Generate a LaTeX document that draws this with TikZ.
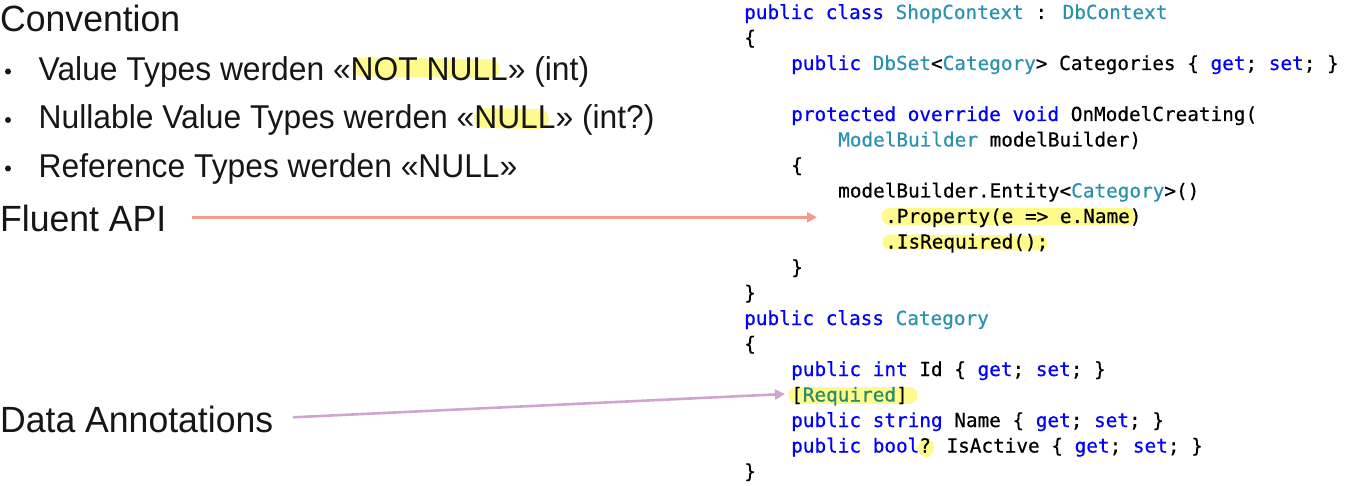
\documentclass[tikz,border=0pt]{standalone}
\usepackage{graphicx}
\usepackage{fontspec}
\setmainfont{Liberation Sans}
\setmonofont{DejaVu Sans Mono}
\newfontfamily\codefont[FakeBold=0.5]{DejaVu Sans Mono}
\usetikzlibrary{arrows.meta}
\definecolor{ckwc}{RGB}{0,0,255}
\definecolor{ctyc}{RGB}{43,145,175}
\definecolor{cattr}{RGB}{40,140,105}
\definecolor{hlyel}{RGB}{255,250,140}
\definecolor{salmonc}{RGB}{244,154,138}
\definecolor{lilacc}{RGB}{207,165,207}
\definecolor{inkc}{RGB}{22,22,22}
\newcommand\ckw[1]{\textcolor{ckwc}{#1}}
\newcommand\cty[1]{\textcolor{ctyc}{#1}}
\newcommand\lsq[1]{\scalebox{0.975}[1]{#1}}
\newcommand\lsb[1]{\scalebox{0.963}[1]{#1}}
\begin{document}
\begin{tikzpicture}[x=1pt,y=-1pt,
  code/.style={anchor=base west, inner sep=0pt, font=\fontsize{19.35}{19.35}\codefont, text=black},
  heading/.style={anchor=base west, inner sep=0pt, font=\fontsize{36.5}{36.5}\selectfont, text=inkc},
  bultext/.style={anchor=base west, inner sep=0pt, font=\fontsize{33}{33}\selectfont, text=inkc},
  buldot/.style={circle, fill=inkc, inner sep=0pt, minimum size=6pt},
  marker/.style={draw=hlyel, line cap=round},
  conn/.style={line width=2.6pt, -{Triangle[length=10pt,width=10pt]}}]
\useasboundingbox (0,0) rectangle (1348,486);
% highlights
\draw[marker, line width=19pt] (362,67) -- (490,69);
\draw[marker, line width=20pt] (484,118) -- (539,119);
\draw[marker, line width=17pt] (890,216.5) -- (1129,216.5);
\draw[marker, line width=15pt] (890,242) -- (1040,243);
\draw[marker, line width=17pt] (797,395) -- (909,395);
\fill[hlyel] (926,447.5) ellipse [x radius=8, y radius=9.5];
% left texts
\node[heading] (conv) at (0,31.7) {\lsq{Convention}};
\node[buldot] (b1) at (8,71.5) {};
\node[bultext] (t1) at (38.5,80.5) {\lsb{Value Types werden «NOT NULL» (int)}};
\node[buldot] (b2) at (8,120) {};
\node[bultext] (t2) at (38.5,129) {\lsb{Nullable Value Types werden «NULL» (int?)}};
\node[buldot] (b3) at (8,168.5) {};
\node[bultext] (t3) at (38.5,177.5) {\lsb{Reference Types werden «NULL»}};
\node[heading] (fluent) at (0,232) {\lsq{Fluent API}};
\node[heading] (annot) at (0,432.3) {\lsq{Data Annotations}};
% code
\node[code] (c0) at (744,19) {\ckw{public} \ckw{class} \cty{ShopContext} : \cty{DbContext}};
\node[code] (c1) at (744,44.5) {\{};
\node[code] (c2) at (791,70) {\ckw{public} \cty{DbSet}<\cty{Category}> Categories \{ \ckw{get}; \ckw{set}; \}};
\node[code] (c4) at (791,121) {\ckw{protected} \ckw{override} \ckw{void} OnModelCreating(};
\node[code] (c5) at (838,146.5) {\cty{ModelBuilder} modelBuilder)};
\node[code] (c6) at (791,172) {\{};
\node[code] (c7) at (838,197.5) {modelBuilder.Entity<\cty{Category}>()};
\node[code] (c8) at (885,223) {.Property(e => e.Name)};
\node[code] (c9) at (885,248.5) {.IsRequired();};
\node[code] (c10) at (791,274) {\}};
\node[code] (c11) at (744,299.5) {\}};
\node[code] (c12) at (744,325) {\ckw{public} \ckw{class} \cty{Category}};
\node[code] (c13) at (744,350.5) {\{};
\node[code] (c14) at (791,376) {\ckw{public} \ckw{int} Id \{ \ckw{get}; \ckw{set}; \}};
\node[code] (c15) at (791,401.5) {[\textcolor{cattr}{Required}]};
\node[code] (c16) at (791,427) {\ckw{public} \ckw{string} Name \{ \ckw{get}; \ckw{set}; \}};
\node[code] (c17) at (791,452.5) {\ckw{public} \ckw{bool}? IsActive \{ \ckw{get}; \ckw{set}; \}};
\node[code] (c18) at (744,478) {\}};
% connectors
\coordinate (fa0) at (192,217.3);
\coordinate (fa1) at (817,217.3);
\coordinate (da0) at (293,417.3);
\coordinate (da1) at (785,394);
\draw[conn, salmonc] (fa0) -- (fa1);
\draw[conn, lilacc] (da0) -- (da1);
\end{tikzpicture}
\end{document}
